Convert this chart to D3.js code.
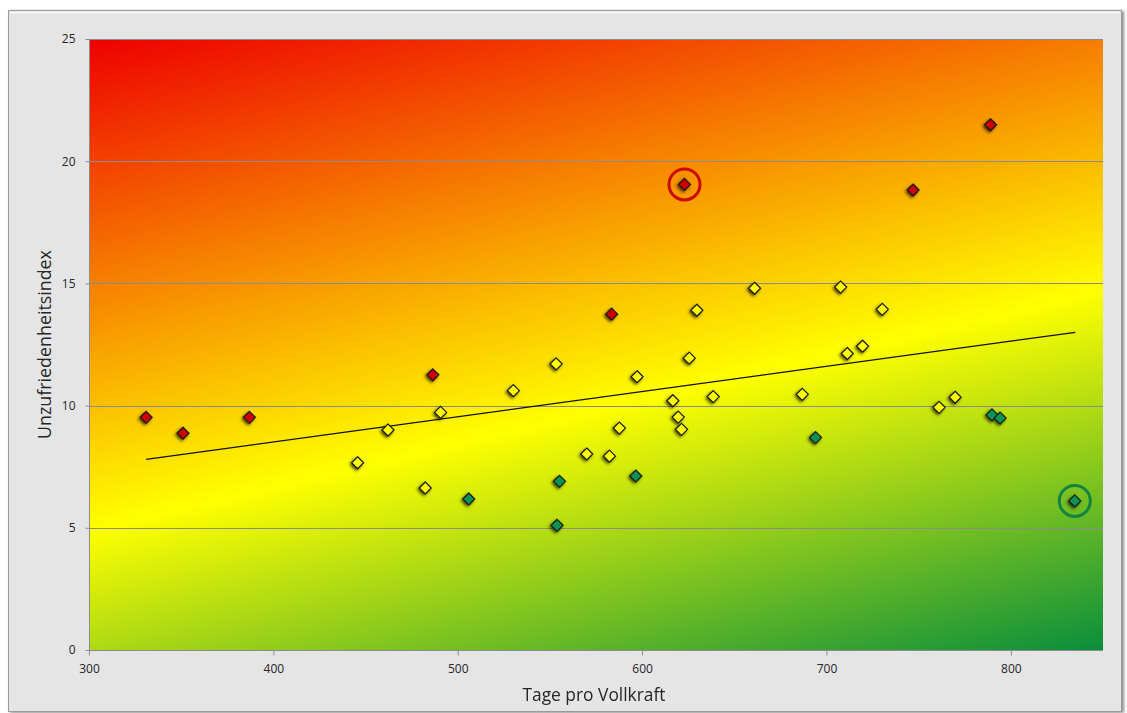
<!DOCTYPE html>
<html><head><meta charset="utf-8">
<script src="https://cdn.jsdelivr.net/npm/d3@7"></script>
<style>body{margin:0;background:#fff;} svg{display:block}</style>
</head><body><svg id="c" width="1127" height="713"></svg>
<script>
// ---- data ----
const redX = [331, 351, 387, 486.5, 583.5, 623, 747, 789];
const redY = [9.52, 8.87, 9.52, 11.26, 13.74, 19.05, 18.82, 21.49];
const yellowX = [445.7, 462.2, 482.4, 490.7, 530.2, 553.4, 570.0, 582.3, 587.7, 597.3, 616.7, 619.6, 621.4, 625.6, 629.7, 638.6, 661.0, 686.9, 707.7, 711.3, 719.6, 730.3, 761.1, 769.8];
const yellowY = [7.66, 9.0, 6.63, 9.72, 10.61, 11.71, 8.02, 7.93, 9.08, 11.18, 10.20, 9.53, 9.03, 11.94, 13.90, 10.37, 14.80, 10.46, 14.85, 12.13, 12.43, 13.94, 9.93, 10.34];
const greenX = [506.0, 553.9, 555.2, 596.6, 694.1, 789.8, 794.2, 834.7];
const greenY = [6.18, 5.10, 6.90, 7.12, 8.69, 9.62, 9.49, 6.10];
const trendX = [331, 835];
const trendY = [7.8, 13.0];
const highlightX = [623, 834.7];
const highlightY = [19.05, 6.10];
const xTicks = [300, 400, 500, 600, 700, 800];
const yTicks = [0, 5, 10, 15, 20, 25];
const xTitle = "Tage pro Vollkraft";
const yTitle = "Unzufriedenheitsindex";

// ---- layout ----
const svg = d3.select("#c");
const L = 89, R = 1103, T = 39, B = 650;
const x = d3.scaleLinear().domain([300, 850]).range([L, R]);
const y = d3.scaleLinear().domain([0, 25]).range([B, T]);
const font = "'Open Sans', 'Noto Sans', sans-serif";

const defs = svg.append("defs");
const fs = defs.append("filter").attr("id", "fshadow").attr("x", "-5%").attr("y", "-5%").attr("width", "110%").attr("height", "110%");
fs.append("feDropShadow").attr("dx", 2).attr("dy", 1).attr("stdDeviation", 1.5).attr("flood-color", "#000").attr("flood-opacity", 0.45);
const ms = defs.append("filter").attr("id", "mshadow").attr("x", "-100%").attr("y", "-100%").attr("width", "300%").attr("height", "300%");
ms.append("feDropShadow").attr("dx", -1.5).attr("dy", 1.5).attr("stdDeviation", 1.7).attr("flood-color", "#000").attr("flood-opacity", 0.7);

// background gradient, direction perpendicular to the yellow band
const bandDx = 1013, bandDy = -240;
let nx = -bandDy, ny = bandDx; const nl = Math.hypot(nx, ny); nx /= nl; ny /= nl;
const proj = (R - L) * nx + (B - T) * ny;
const grad = defs.append("linearGradient").attr("id", "bg").attr("gradientUnits", "userSpaceOnUse")
  .attr("x1", L).attr("y1", T).attr("x2", L + nx * proj).attr("y2", T + ny * proj);
[[0, "#ee0000"], [0.577, "#ffff00"], [1, "#0a8e3c"]].forEach(s =>
  grad.append("stop").attr("offset", s[0]).attr("stop-color", s[1]));

// chart frame
svg.append("rect").attr("x", 8.5).attr("y", 10.5).attr("width", 1113).attr("height", 701)
  .attr("fill", "#e5e5e5").attr("stroke", "#9a9a9a").attr("stroke-width", 1).attr("filter", "url(#fshadow)");
svg.append("line").attr("x1", 10).attr("x2", 1120).attr("y1", 12.5).attr("y2", 12.5).attr("stroke", "#f6f6f6").attr("stroke-width", 2);

// plot area
svg.append("rect").attr("x", L).attr("y", T).attr("width", R - L).attr("height", B - T).attr("fill", "url(#bg)");

// gridlines
svg.append("g").selectAll("line").data(yTicks.filter(d => d > 0)).join("line")
  .attr("x1", L).attr("x2", R).attr("y1", d => Math.round(y(d)) + 0.5).attr("y2", d => Math.round(y(d)) + 0.5)
  .attr("stroke", "#8c8c8c").attr("stroke-width", 1);

// axes
const yAxis = svg.append("g").attr("transform", `translate(${L + 0.5},0)`)
  .call(d3.axisLeft(y).tickValues(yTicks).tickSize(4).tickPadding(10).tickFormat(d3.format("d")));
const xAxis = svg.append("g").attr("transform", `translate(0,${B + 0.5})`)
  .call(d3.axisBottom(x).tickValues(xTicks).tickSize(5).tickPadding(9).tickFormat(d3.format("d")));
[yAxis, xAxis].forEach(g => {
  g.select(".domain").attr("stroke", "#8c8c8c");
  g.selectAll(".tick line").attr("stroke", "#8c8c8c");
  g.selectAll(".tick text").attr("fill", "#262626").style("font-family", font).style("font-size", "12px");
});
xAxis.select(".domain").attr("d", `M${L},0H${R}`);
yAxis.select(".domain").attr("d", `M0,${B}V${T}`);

// trendline
svg.append("path").datum(trendX.map((v, i) => [v, trendY[i]]))
  .attr("d", d3.line().x(d => x(d[0])).y(d => y(d[1])))
  .attr("fill", "none").attr("stroke", "#111").attr("stroke-width", 1.3);

// markers
const diamond = "M0,-6L6,0L0,6L-6,0Z";
const series = [
  {xs: yellowX, ys: yellowY, fill: "#ffff00"},
  {xs: greenX, ys: greenY, fill: "#109255"},
  {xs: redX, ys: redY, fill: "#cc0000"}
];
series.forEach(s => {
  svg.append("g").attr("filter", "url(#mshadow)").selectAll("path")
    .data(s.xs.map((v, i) => [v, s.ys[i]])).join("path")
    .attr("d", diamond)
    .attr("transform", d => `translate(${x(d[0])},${y(d[1])})`)
    .attr("fill", s.fill).attr("stroke", "#1a1a1a").attr("stroke-width", 1.2);
});

// highlight circles
const hcol = ["#cc0a0a", "#13843f"];
svg.append("g").selectAll("circle").data(highlightX.map((v, i) => [v, highlightY[i], hcol[i]])).join("circle")
  .attr("cx", d => x(d[0])).attr("cy", d => y(d[1])).attr("r", 15.5)
  .attr("fill", "none").attr("stroke", d => d[2]).attr("stroke-width", 3);

// titles
function fitText(t, w) {
  let fsz = 16; t.style("font-size", fsz + "px");
  const len = t.node().getComputedTextLength();
  t.style("font-size", (fsz * w / len).toFixed(2) + "px");
}
const xt = svg.append("text").attr("x", (L + R) / 2 - 2).attr("y", 701).attr("text-anchor", "middle")
  .attr("fill", "#262626").style("font-family", font).text(xTitle);
fitText(xt, 143);
const yt = svg.append("text").attr("transform", `translate(51,${(T + B) / 2}) rotate(-90)`).attr("text-anchor", "middle")
  .attr("fill", "#262626").style("font-family", font).text(yTitle);
fitText(yt, 189);
</script></body></html>
